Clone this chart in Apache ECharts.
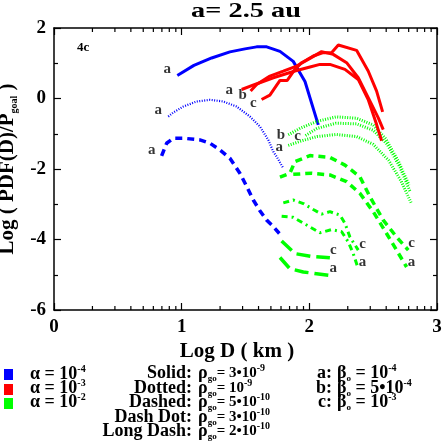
<!DOCTYPE html>
<html>
<head>
<meta charset="utf-8">
<script src="https://cdn.jsdelivr.net/npm/echarts@6/dist/echarts.min.js"></script>
<style>html,body{margin:0;padding:0;background:#fff}#c{width:443px;height:443px}</style>
</head>
<body>
<div id="c"></div>
<script>
// ---------- data (Log D , Log PDF) ----------
// alpha = 1e-4 (blue)
const blueSolidA_x = [0.966,1.096,1.235,1.378,1.496,1.587,1.666,1.770,1.874,1.966,2.070];
const blueSolidA_y = [0.654,0.939,1.150,1.323,1.408,1.465,1.465,1.337,1.053,0.484,-0.748];
const blueDottedA_x = [0.895,0.934,1.013,1.117,1.222,1.326,1.430,1.535,1.613,1.678,1.718,1.744,1.796];
const blueDottedA_y = [-0.512,-0.398,-0.228,-0.085,-0.037,-0.085,-0.228,-0.512,-0.797,-1.175,-1.508,-1.65,-1.98];
const blueDashedA_x = [0.843,0.882,0.934,1.013,1.143,1.222,1.300,1.378,1.456,1.510,1.561,1.610,1.666,1.715,1.765];
const blueDashedA_y = [-1.630,-1.270,-1.127,-1.127,-1.175,-1.270,-1.459,-1.697,-2.12,-2.50,-2.88,-3.17,-3.45,-3.62,-3.83];
// alpha = 1e-3 (red), solid
const redSolidA_x = [1.470,1.574,1.718,1.887,2.005,2.083,2.161,2.279,2.383,2.461,2.527,2.566];
const redSolidA_y = [0.256,0.398,0.589,0.779,0.893,0.967,0.967,0.825,0.541,-0.028,-0.740,-1.20];
const redSolidB_x = [1.540,1.587,1.691,1.796,1.900,2.005,2.096,2.187,2.292,2.383,2.475,2.540,2.579];
const redSolidB_y = [0.21,0.398,0.637,0.779,0.921,1.138,1.329,1.252,1.016,0.589,-0.075,-0.549,-0.882];
const redSolidC_x = [1.626,1.691,1.770,1.827,1.887,1.940,2.031,2.109,2.174,2.227,2.370,2.461,2.527,2.574];
const redSolidC_y = [-0.028,0.097,0.512,0.512,0.825,1.016,1.206,1.300,1.300,1.519,1.366,0.779,0.210,-0.378];
// alpha = 1e-2 (green)
const greenDottedB_x = [1.835,1.93,2.06,2.21,2.37,2.50,2.60,2.70,2.78];
const greenDottedB_y = [-1.03,-0.84,-0.65,-0.52,-0.56,-0.75,-1.15,-1.80,-2.45];
const greenDottedC_x = [1.97,2.06,2.21,2.37,2.50,2.61,2.71,2.79];
const greenDottedC_y = [-1.05,-0.85,-0.70,-0.72,-0.90,-1.30,-1.95,-2.65];
const greenDottedA_x = [1.835,1.95,2.06,2.21,2.37,2.50,2.62,2.72,2.80];
const greenDottedA_y = [-1.33,-1.19,-1.08,-1.02,-1.08,-1.30,-1.75,-2.35,-2.98];
const greenDashedC_x = [1.770,1.848,1.887,2.005,2.161,2.279,2.396,2.475,2.579,2.684,2.775];
const greenDashedC_y = [-2.23,-2.12,-1.79,-1.62,-1.67,-1.89,-2.22,-2.79,-3.45,-3.93,-4.30];
const greenDashedA_x = [1.874,2.018,2.161,2.292,2.396,2.500,2.605,2.762];
const greenDashedA_y = [-2.15,-2.12,-2.17,-2.36,-2.69,-3.21,-3.83,-4.78];
const greenDashDotC_x = [1.796,1.874,1.953,2.031,2.096,2.161,2.240,2.279,2.318,2.383];
const greenDashDotC_y = [-2.96,-2.88,-2.98,-3.15,-3.28,-3.21,-3.31,-3.54,-3.93,-4.30];
const greenDashDotA_x = [1.783,1.874,1.979,2.083,2.174,2.253,2.305,2.344,2.383];
const greenDashDotA_y = [-3.34,-3.37,-3.59,-3.81,-3.72,-3.78,-4.07,-4.40,-4.83];
const greenLongDashC_x = [1.783,1.887,2.018,2.161];
const greenLongDashC_y = [-4.04,-4.40,-4.48,-4.52];
const greenLongDashA_x = [1.770,1.848,1.953,2.057,2.161];
const greenLongDashA_y = [-4.51,-4.83,-4.92,-4.97,-5.02];
// curve labels
const curveLabels = ['a','a','a','a','b','c','b','c','a','c','a','c','a','c','a'];
const curveLabelX = [0.887,0.817,0.765,1.373,1.478,1.561,1.778,1.908,1.764,2.801,2.801,2.417,2.417,2.187,2.187];
const curveLabelY = [0.845,-0.32,-1.46,0.228,0.105,-0.13,-1.03,-1.08,-1.37,-4.11,-4.64,-4.13,-4.64,-4.30,-4.81];
// axes
const xTicks = ['0','1','2','3'];
const yTicks = ['-6','-4','-2','0','2'];
const minorK = [2,3,4,5,6,7,8,9];
const decades = [0,1,2];

// ---------- chart ----------
const SERIF = '"Liberation Serif","DejaVu Serif",serif';
const BLUE = '#0000ff', RED = '#ff0000', GREEN = '#00ff00';
const zip = (xs, ys) => xs.map((x, i) => [x, ys[i]]);
const STYLES = {
  solid: {type: 'solid', width: 3},
  dottedB: {type: [1, 1.5], width: 2.2},
  dottedG: {type: [1, 1.5], width: 3},
  dashed: {type: [7, 5], width: 3.5},
  dashdot: {type: [6, 4, 2, 4], width: 3},
  longdash: {type: [14, 6], width: 3.5}
};
function lineSeries(xs, ys, color, st) {
  return {type: 'line', data: zip(xs, ys), showSymbol: false, symbol: 'none', silent: true,
    animation: false, clip: false,
    lineStyle: {color: color, width: st.width, type: st.type, cap: 'butt'}};
}
const series = [
  lineSeries(blueSolidA_x, blueSolidA_y, BLUE, STYLES.solid),
  lineSeries(blueDottedA_x, blueDottedA_y, BLUE, STYLES.dottedB),
  lineSeries(blueDashedA_x, blueDashedA_y, BLUE, STYLES.dashed),
  lineSeries(greenDottedB_x, greenDottedB_y, GREEN, STYLES.dottedG),
  lineSeries(greenDottedC_x, greenDottedC_y, GREEN, STYLES.dottedG),
  lineSeries(greenDottedA_x, greenDottedA_y, GREEN, STYLES.dottedG),
  lineSeries(greenDashedC_x, greenDashedC_y, GREEN, STYLES.dashed),
  lineSeries(greenDashedA_x, greenDashedA_y, GREEN, STYLES.dashed),
  lineSeries(greenDashDotC_x, greenDashDotC_y, GREEN, STYLES.dashdot),
  lineSeries(greenDashDotA_x, greenDashDotA_y, GREEN, STYLES.dashdot),
  lineSeries(greenLongDashC_x, greenLongDashC_y, GREEN, STYLES.longdash),
  lineSeries(greenLongDashA_x, greenLongDashA_y, GREEN, STYLES.longdash),
  lineSeries(redSolidA_x, redSolidA_y, RED, STYLES.solid),
  lineSeries(redSolidB_x, redSolidB_y, RED, STYLES.solid),
  lineSeries(redSolidC_x, redSolidC_y, RED, STYLES.solid),
  {
    type: 'scatter', symbolSize: 0, silent: true, animation: false,
    data: curveLabels.map((n, i) => ({name: n, value: [curveLabelX[i], curveLabelY[i]]})),
    label: {show: true, position: 'inside', formatter: '{b}', color: '#000',
      fontFamily: SERIF, fontWeight: 'bold', fontSize: 15}
  },
  {
    type: 'custom', silent: true, animation: false, clip: false,
    data: decades.flatMap(d => minorK.map(k => [d + Math.log10(k)])),
    renderItem: function (params, api) {
      const v = api.value(0);
      const b = api.coord([v, -6]);
      const t = api.coord([v, 2]);
      const st = {stroke: '#000', lineWidth: 1.2};
      return {type: 'group', children: [
        {type: 'line', shape: {x1: b[0], y1: b[1], x2: b[0], y2: b[1] - 4}, style: st},
        {type: 'line', shape: {x1: t[0], y1: t[1], x2: t[0], y2: t[1] + 4}, style: st}
      ]};
    }
  }
];

const axisLine = {show: true, onZero: false, lineStyle: {color: '#000', width: 1.5}};
const tickLbl = {color: '#000', fontFamily: SERIF, fontWeight: 'bold', fontSize: 19};
const supRich = {
  m: {fontFamily: SERIF, fontWeight: 'bold', fontSize: 18, lineHeight: 20, color: '#000', verticalAlign: 'middle'},
  r: {fontFamily: SERIF, fontWeight: 'bold', fontSize: 15, lineHeight: 20, color: '#000', verticalAlign: 'middle'},
  sup: {fontFamily: SERIF, fontWeight: 'bold', fontSize: 10, lineHeight: 10, color: '#000', verticalAlign: 'top'},
  sub: {fontFamily: SERIF, fontWeight: 'bold', fontSize: 9, lineHeight: 9, color: '#000', verticalAlign: 'bottom'}
};
function txt(text, x, y, align) {
  return {type: 'text', silent: true, style: {text: text, x: x, y: y, align: align || 'left',
    verticalAlign: 'middle', rich: supRich, fill: '#000'}};
}
const rowsL = [373, 388, 402.5, 417, 431.5];
const graphic = [
  {type: 'text', x: 246, y: 12, scaleX: 1.35, style: {text: 'a= 2.5 au', x: 0, y: 0, align: 'center', verticalAlign: 'middle',
    font: 'bold 21px ' + SERIF, fill: '#000'}},
  {type: 'text', style: {text: '4c', x: 77, y: 48, align: 'left', verticalAlign: 'middle',
    font: 'bold 13px ' + SERIF, fill: '#000'}},
  {type: 'text', style: {text: 'Log D ( km )', x: 237, y: 352, align: 'center', verticalAlign: 'middle',
    font: 'bold 21px ' + SERIF, fill: '#000'}},
  {type: 'rect', shape: {x: 4, y: 369, width: 9, height: 11}, style: {fill: BLUE}},
  {type: 'rect', shape: {x: 4, y: 384, width: 9, height: 11}, style: {fill: RED}},
  {type: 'rect', shape: {x: 4, y: 398, width: 9, height: 11}, style: {fill: GREEN}},
  txt('{m|α = 10}{sup|-4}', 30, 374),
  txt('{m|α = 10}{sup|-3}', 30, 388),
  txt('{m|α = 10}{sup|-2}', 30, 402.5),
  txt('{m|Solid:}', 192, rowsL[0], 'right'),
  txt('{m|Dotted:}', 192, rowsL[1], 'right'),
  txt('{m|Dashed:}', 192, rowsL[2], 'right'),
  txt('{m|Dash Dot:}', 192, rowsL[3], 'right'),
  txt('{m|Long Dash:}', 192, rowsL[4], 'right'),
  txt('{m|ρ}{sub|go}{r|= 3•10}{sup|-9}', 198, rowsL[0]),
  txt('{m|ρ}{sub|go}{r|= 10}{sup|-9}', 198, rowsL[1]),
  txt('{m|ρ}{sub|go}{r|= 5•10}{sup|-10}', 198, rowsL[2]),
  txt('{m|ρ}{sub|go}{r|= 3•10}{sup|-10}', 198, rowsL[3]),
  txt('{m|ρ}{sub|go}{r|= 2•10}{sup|-10}', 198, rowsL[4]),
  txt('{m|a:}', 332, rowsL[0], 'right'),
  txt('{m|b:}', 332, rowsL[1], 'right'),
  txt('{m|c:}', 332, rowsL[2], 'right'),
  txt('{m|β}{sub|o}{m| = 10}{sup|-4}', 337, rowsL[0]),
  txt('{m|β}{sub|o}{m| = 5•10}{sup|-4}', 337, rowsL[1]),
  txt('{m|β}{sub|o}{m| = 10}{sup|-3}', 337, rowsL[2])
];

const chart = echarts.init(document.getElementById('c'), null, {renderer: 'canvas'});
chart.setOption({
  backgroundColor: '#fff',
  animation: false,
  grid: {left: 54, right: 6, top: 28, bottom: 133, containLabel: false, outerBoundsMode: 'none'},
  xAxis: [
    {type: 'value', min: 0, max: 3, interval: 1, position: 'bottom', axisLine: axisLine,
      axisTick: {show: true, inside: true, length: 7, lineStyle: {color: '#000', width: 1.2}},
      axisLabel: Object.assign({margin: 8, formatter: v => xTicks[Math.round(v)]}, tickLbl),
      splitLine: {show: false}},
    {type: 'value', min: 0, max: 3, interval: 1, position: 'top', axisLine: axisLine,
      axisTick: {show: true, inside: true, length: 7, lineStyle: {color: '#000', width: 1.2}},
      axisLabel: {show: false}, splitLine: {show: false}}
  ],
  yAxis: [
    {type: 'value', min: -6, max: 2, interval: 2, position: 'left', axisLine: axisLine,
      axisTick: {show: true, inside: true, length: 7, lineStyle: {color: '#000', width: 1.2}},
      minorTick: {show: true, splitNumber: 2, length: 4, lineStyle: {color: '#000', width: 1.2}},
      axisLabel: Object.assign({margin: 8, formatter: v => yTicks[Math.round((v + 6) / 2)]}, tickLbl),
      splitLine: {show: false}, minorSplitLine: {show: false},
      name: '{n|Log ( PDF(D)/P}{s|goal}{n| )}', nameLocation: 'middle', nameGap: 27, nameRotate: 90,
      nameTextStyle: {rich: {
        n: {fontFamily: SERIF, fontWeight: 'bold', fontSize: 21, lineHeight: 24, color: '#000', verticalAlign: 'middle'},
        s: {fontFamily: SERIF, fontWeight: 'bold', fontSize: 10, lineHeight: 10, color: '#000', verticalAlign: 'bottom'}
      }}},
    {type: 'value', min: -6, max: 2, interval: 2, position: 'right', axisLine: axisLine,
      axisTick: {show: true, inside: true, length: 7, lineStyle: {color: '#000', width: 1.2}},
      minorTick: {show: true, splitNumber: 2, length: 4, lineStyle: {color: '#000', width: 1.2}},
      axisLabel: {show: false}, splitLine: {show: false}, minorSplitLine: {show: false}}
  ],
  series: series,
  graphic: graphic
});
</script>
</body>
</html>
